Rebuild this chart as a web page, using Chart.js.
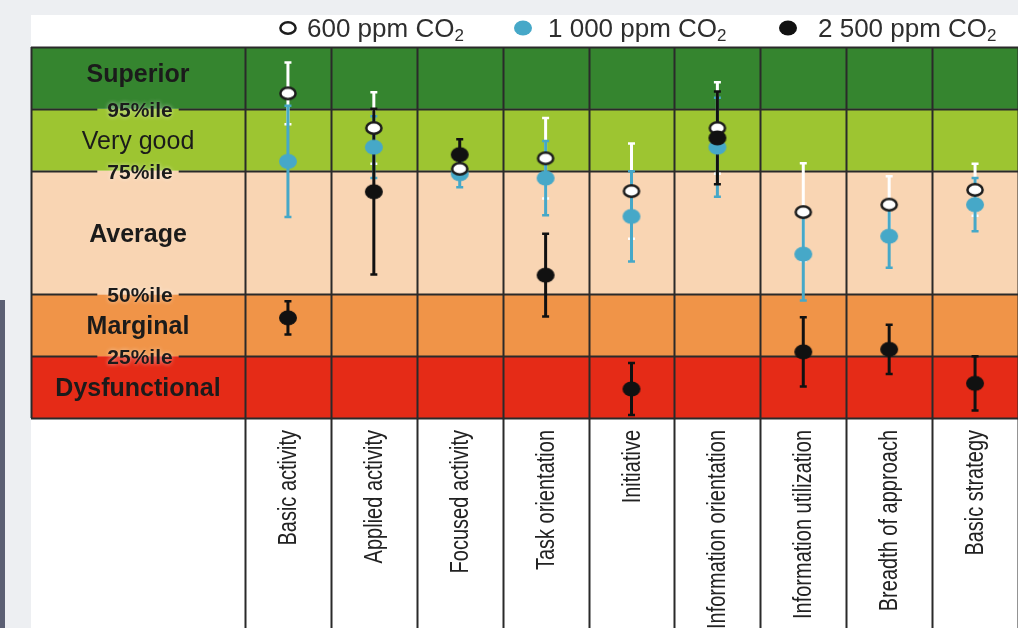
<!DOCTYPE html>
<html>
<head>
<meta charset="utf-8">
<script src="https://cdn.jsdelivr.net/npm/chart.js@4.4.1/dist/chart.umd.min.js"></script>
<style>
  html, body { margin: 0; padding: 0; background: #edeff2; overflow: hidden; }
  #wrap { position: relative; width: 1018px; height: 628px; }
  #panel { position: absolute; left: 31px; top: 15px; right: 0; bottom: 0; background: #fff; }
  #strip { position: absolute; left: 0; top: 300px; width: 5px; bottom: 0; background: #5b5f73; }
  #chart { position: absolute; left: 0; top: 0; }
</style>
</head>
<body>
<div id="wrap">
  <div id="panel"></div>
  <div id="strip"></div>
  <canvas id="chart" width="1018" height="628"></canvas>
</div>
<script>
// Performance domains along the bottom
const categories = ["Basic activity", "Applied activity", "Focused activity", "Task orientation",
  "Initiative", "Information orientation", "Information utilization", "Breadth of approach", "Basic strategy"];

// Scores on the rating scale (0 = bottom of Dysfunctional, 6 = top of Superior)
const ppm600 = [5.25, 4.69, 4.03, 4.20, 3.67, 4.69, 3.33, 3.45, 3.69];
const ppm600Err = [0.50, 0.58, 0.15, 0.65, 0.77, 0.74, 0.79, 0.46, 0.42];
const ppm1000 = [4.15, 4.38, 3.95, 3.88, 3.26, 4.38, 2.65, 2.94, 3.45];
const ppm1000Err = [0.90, 0.50, 0.22, 0.60, 0.73, 0.80, 0.75, 0.51, 0.43];
const ppm2500 = [1.62, 3.66, 4.26, 2.31, 0.47, 4.53, 1.07, 1.11, 0.56];
const ppm2500Err = [0.27, 1.34, 0.25, 0.67, 0.42, 0.75, 0.56, 0.40, 0.44];

// Rating bands and the percentile lines between them
const bandNames = ["Dysfunctional", "Marginal", "Average", "Very good", "Superior"];
const bandEdges = [0, 1, 2, 4, 5, 6];
const percentileLabels = ["25%ile", "50%ile", "75%ile", "95%ile"];
const bandColors = ["#e52b17", "#f09448", "#f9d5b3", "#9dc531", "#35852f"];

const FONT = '"Liberation Sans", Arial, sans-serif';
const LINE = "#2a2a2a";
const TABLE_LEFT = 31;

function ellipseMarker(fill, stroke, rx, ry) {
    const c = document.createElement("canvas");
    c.width = 24; c.height = 20;
    const g = c.getContext("2d");
    g.beginPath();
    g.ellipse(12, 10, rx, ry, 0, 0, Math.PI * 2);
    g.fillStyle = fill;
    g.fill();
    if (stroke) {
        g.lineWidth = 2.5;
        g.strokeStyle = stroke;
        g.stroke();
    }
    return c;
}

const whiteDot = ellipseMarker("#ffffff", "#1c1c1c", 7.6, 5.8);
const blueDot = ellipseMarker("#46a8c8", null, 9, 7.5);
const blackDot = ellipseMarker("#111111", null, 9, 7.5);

const series = [
    { label: "2 500 ppm CO", values: ppm2500, err: ppm2500Err, color: "#111111", marker: blackDot, order: 1 },
    { label: "600 ppm CO", values: ppm600, err: ppm600Err, color: "#ffffff", marker: whiteDot, order: 2 },
    { label: "1 000 ppm CO", values: ppm1000, err: ppm1000Err, color: "#46a8c8", marker: blueDot, order: 3 }
];

// legend entries, left to right
const legendLayout = [
    { marker: whiteDot, text: "600 ppm CO", mx: 288, tx: 307 },
    { marker: blueDot, text: "1 000 ppm CO", mx: 523, tx: 548 },
    { marker: blackDot, text: "2 500 ppm CO", mx: 788, tx: 818 }
];

const ratingTable = {
    id: "ratingTable",
    beforeDatasetsDraw(chart) {
        const { ctx, chartArea: a, scales: { x, y } } = chart;
        const H = chart.height;
        ctx.save();

        // colour bands across the full table
        for (let i = 0; i < bandNames.length; i++) {
            const top = y.getPixelForValue(bandEdges[i + 1]);
            const bot = y.getPixelForValue(bandEdges[i]);
            ctx.fillStyle = bandColors[i];
            ctx.fillRect(TABLE_LEFT, top, a.right - TABLE_LEFT, bot - top);
        }

        const mid = (TABLE_LEFT + a.left) / 2;
        ctx.textAlign = "center";
        ctx.textBaseline = "alphabetic";
        ctx.fillStyle = "#1b1b1b";

        // band names
        for (let i = 0; i < bandNames.length; i++) {
            const cy = (y.getPixelForValue(bandEdges[i + 1]) + y.getPixelForValue(bandEdges[i])) / 2;
            const bold = bandNames[i] !== "Very good";
            ctx.font = (bold ? "bold " : "") + "25px " + FONT;
            ctx.fillText(bandNames[i], mid, cy + 9 - (i === 4 ? 5 : 0));
        }

        // horizontal rules; the percentile lines are broken around their labels
        ctx.strokeStyle = LINE;
        ctx.lineWidth = 2;
        ctx.font = "bold 21px " + FONT;
        bandEdges.forEach((v, j) => {
            const py = Math.round(y.getPixelForValue(v)) + 0.5;
            const k = j - 1;
            ctx.beginPath();
            if (k >= 0 && k < percentileLabels.length) {
                const w = ctx.measureText(percentileLabels[k]).width;
                ctx.moveTo(TABLE_LEFT, py); ctx.lineTo(mid - w / 2 - 8, py);
                ctx.moveTo(mid + w / 2 + 8, py); ctx.lineTo(a.right, py);
            } else {
                ctx.moveTo(TABLE_LEFT, py); ctx.lineTo(a.right, py);
            }
            ctx.stroke();
        });

        // percentile labels sit on their lines
        ctx.shadowColor = "rgba(255,255,255,0.55)";
        ctx.shadowBlur = 4;
        percentileLabels.forEach((t, k) => {
            const py = y.getPixelForValue(bandEdges[k + 1]);
            ctx.fillText(t, mid + 2, py + 8);
        });
        ctx.shadowColor = "transparent";
        ctx.shadowBlur = 0;

        // vertical rules
        ctx.beginPath();
        ctx.moveTo(TABLE_LEFT + 0.5, a.top);
        ctx.lineTo(TABLE_LEFT + 0.5, a.bottom);
        const colW = a.width / categories.length;
        for (let i = 0; i <= categories.length; i++) {
            const px = Math.round(a.left + i * colW) + 0.5;
            ctx.moveTo(px, a.top);
            ctx.lineTo(px, H);
        }
        ctx.stroke();

        // category names, rotated and condensed, ending just under the table
        ctx.fillStyle = "#222";
        ctx.font = "25px " + FONT;
        ctx.textAlign = "right";
        ctx.textBaseline = "alphabetic";
        categories.forEach((name, i) => {
            ctx.save();
            ctx.translate(x.getPixelForValue(i) + 8, a.bottom + 12);
            ctx.rotate(-Math.PI / 2);
            ctx.scale(0.8, 1);
            ctx.fillText(name, 0, 0);
            ctx.restore();
        });

        // error bars: 600, then 1000, then 2500 on top
        [series[1], series[2], series[0]].forEach(s => {
            ctx.strokeStyle = s.color;
            s.values.forEach((v, i) => {
                const px = x.getPixelForValue(i);
                const hi = y.getPixelForValue(v + s.err[i]);
                const lo = y.getPixelForValue(v - s.err[i]);
                ctx.lineWidth = 3;
                ctx.beginPath();
                ctx.moveTo(px, hi); ctx.lineTo(px, lo);
                ctx.stroke();
                ctx.lineWidth = 2.5;
                ctx.beginPath();
                ctx.moveTo(px - 3.5, hi); ctx.lineTo(px + 3.5, hi);
                ctx.moveTo(px - 3.5, lo); ctx.lineTo(px + 3.5, lo);
                ctx.stroke();
            });
        });
        ctx.restore();
    },
    afterDraw(chart) {
        const ctx = chart.ctx;
        ctx.save();
        ctx.fillStyle = "#2e2e2e";
        ctx.textAlign = "left";
        ctx.textBaseline = "alphabetic";
        legendLayout.forEach(item => {
            ctx.drawImage(item.marker, item.mx - 12, 28 - 10);
            ctx.font = "26px " + FONT;
            ctx.fillText(item.text, item.tx, 37);
            const w = ctx.measureText(item.text).width;
            ctx.font = "17px " + FONT;
            ctx.fillText("2", item.tx + w, 41);
        });
        ctx.restore();
    }
};

new Chart(document.getElementById("chart"), {
    type: "line",
    data: {
        labels: categories,
        datasets: series.map(s => ({
            label: s.label + "2",
            data: s.values,
            showLine: false,
            order: s.order,
            pointStyle: s.marker,
            pointRadius: 9,
            pointHoverRadius: 9,
            backgroundColor: s.color,
            borderColor: s.color
        }))
    },
    options: {
        responsive: false,
        animation: false,
        devicePixelRatio: 1,
        layout: { autoPadding: false, padding: { left: 245, top: 47, right: 0, bottom: 0 } },
        plugins: { legend: { display: false }, tooltip: { enabled: false } },
        scales: {
            x: {
                offset: true,
                grid: { display: false },
                border: { display: false },
                ticks: { display: false },
                afterFit(scale) {
                    scale.height = 210;
                    scale.paddingLeft = 0;
                    scale.paddingRight = 0;
                }
            },
            y: { display: false, min: 0, max: 6 }
        }
    },
    plugins: [ratingTable]
});
</script>
</body>
</html>
